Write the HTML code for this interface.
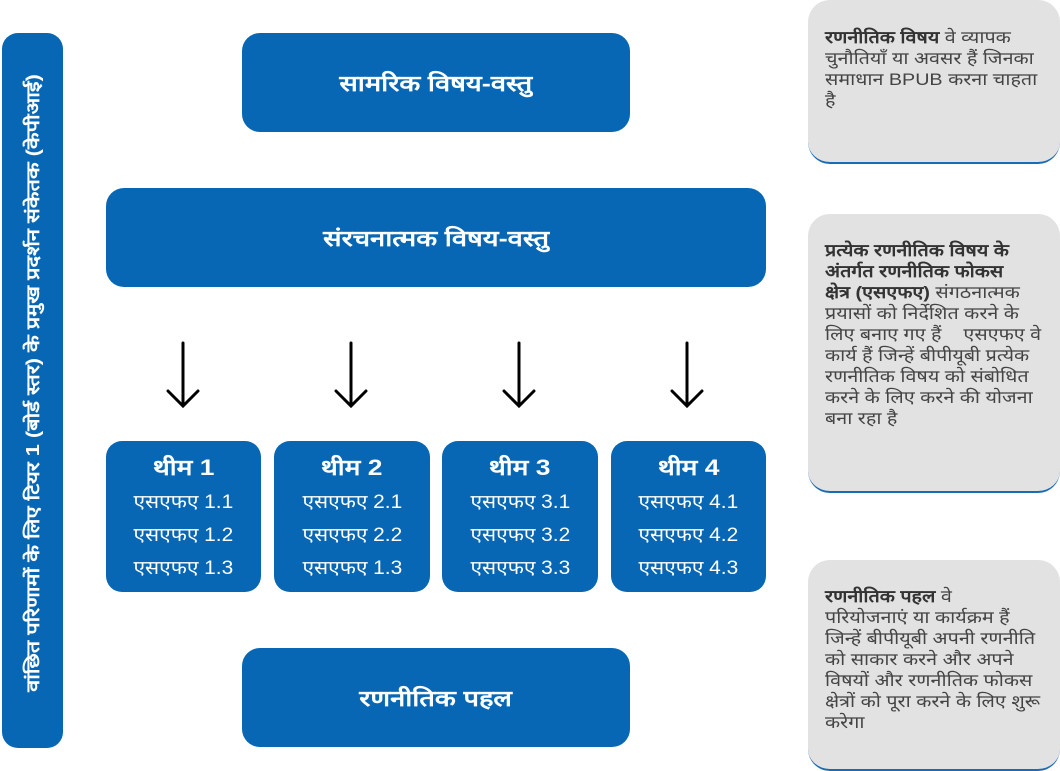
<!DOCTYPE html>
<html><head><meta charset="utf-8"><style>
body{margin:0;width:1060px;height:771px;position:relative;background:#fff;overflow:hidden;font-family:"Liberation Sans","Noto Sans CJK SC",sans-serif}
.b{position:absolute;background:#0767b5;color:#fff;border-radius:18px;display:flex;align-items:center;justify-content:center;font-weight:bold;font-size:22px}
.b span{display:inline-block;transform:scaleX(1.24)}
.t{position:absolute;background:#0767b5;color:#fff;border-radius:16px;text-align:center;font-size:19px;line-height:33px;padding-top:10px;box-sizing:border-box}
.t span{display:inline-block;transform:scaleX(1.1)}
.t b{font-size:22px;display:inline-block;line-height:34px;transform:scaleX(1.2)}
.n{position:absolute;left:808px;width:252px;background:#e2e2e2;border-radius:22px;border-bottom:2px solid #1a6bb5;box-sizing:border-box;padding:0 0 0 17px;font-size:17px;line-height:21px;color:#444}
.n div{transform:scaleX(1.16);transform-origin:0 0;white-space:nowrap}
.n b{color:#333}
.side{position:absolute;left:2px;top:33px;width:61px;height:715px;background:#0767b5;border-radius:16px}
.side span{position:absolute;left:50%;top:50%;transform:translate(-50%,-50%) rotate(-90deg) scaleX(1.21);white-space:nowrap;color:#fff;font-weight:bold;font-size:18px;margin-top:-8px}
</style></head><body>
<div class="side"><span>वांछित परिणामों के लिए टियर 1 (बोर्ड स्तर) के प्रमुख प्रदर्शन संकेतक (केपीआई)</span></div>
<div class="b" style="left:242px;top:33px;width:388px;height:99px"><span>सामरिक विषय-वस्तु</span></div>
<div class="b" style="left:106px;top:188px;width:660px;height:99px"><span>संरचनात्मक विषय-वस्तु</span></div>
<svg style="position:absolute;left:0;top:0" width="800" height="430">
<g stroke="#000" stroke-width="3" fill="none" stroke-linecap="round">
<path d="M183 343V406M168 391L183 406L198 391"/>
<path d="M351 343V406M336 391L351 406L366 391"/>
<path d="M519 343V406M504 391L519 406L534 391"/>
<path d="M687 343V406M672 391L687 406L702 391"/>
</g></svg>
<div class="t" style="left:106px;top:441px;width:155px;height:151px"><b>थीम 1</b><br><span>एसएफए 1.1</span><br><span>एसएफए 1.2</span><br><span>एसएफए 1.3</span></div>
<div class="t" style="left:274px;top:441px;width:156px;height:151px"><b>थीम 2</b><br><span>एसएफए 2.1</span><br><span>एसएफए 2.2</span><br><span>एसएफए 1.3</span></div>
<div class="t" style="left:442px;top:441px;width:156px;height:151px"><b>थीम 3</b><br><span>एसएफए 3.1</span><br><span>एसएफए 3.2</span><br><span>एसएफए 3.3</span></div>
<div class="t" style="left:611px;top:441px;width:155px;height:151px"><b>थीम 4</b><br><span>एसएफए 4.1</span><br><span>एसएफए 4.2</span><br><span>एसएफए 4.3</span></div>
<div class="b" style="left:242px;top:648px;width:388px;height:99px"><span>रणनीतिक पहल</span></div>
<div class="n" style="top:0;height:164px;padding-top:27px"><div><b>रणनीतिक विषय</b> वे व्यापक<br>चुनौतियाँ या अवसर हैं जिनका<br>समाधान BPUB करना चाहता<br>है</div></div>
<div class="n" style="top:214px;height:279px;padding-top:26px"><div><b>प्रत्येक रणनीतिक विषय के<br>अंतर्गत रणनीतिक फोकस<br>क्षेत्र (एसएफए)</b> संगठनात्मक<br>प्रयासों को निर्देशित करने के<br>लिए बनाए गए हैं &nbsp;&nbsp; एसएफए वे<br>कार्य हैं जिन्हें बीपीयूबी प्रत्येक<br>रणनीतिक विषय को संबोधित<br>करने के लिए करने की योजना<br>बना रहा है</div></div>
<div class="n" style="top:560px;height:211px;padding-top:26px"><div><b>रणनीतिक पहल</b> वे<br>परियोजनाएं या कार्यक्रम हैं<br>जिन्हें बीपीयूबी अपनी रणनीति<br>को साकार करने और अपने<br>विषयों और रणनीतिक फोकस<br>क्षेत्रों को पूरा करने के लिए शुरू<br>करेगा</div></div>
</body></html>
